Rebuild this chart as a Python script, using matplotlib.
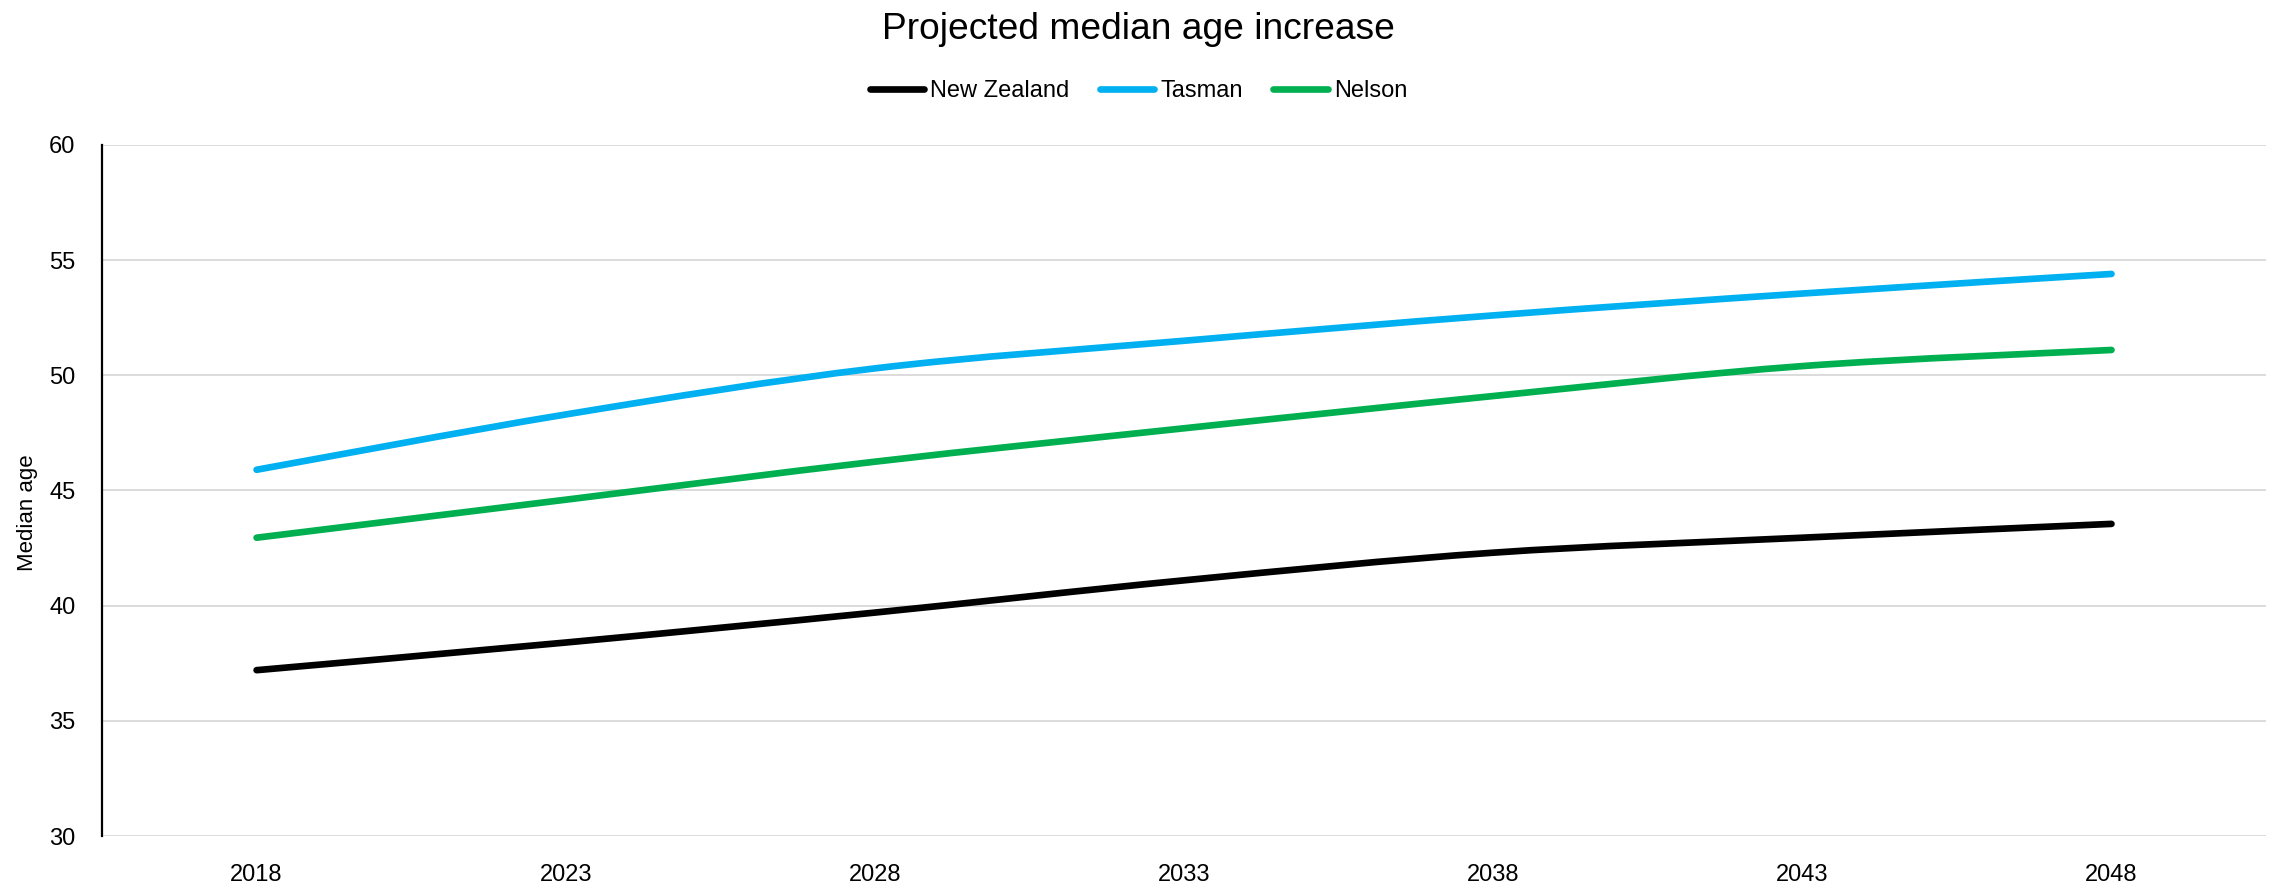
import matplotlib
matplotlib.use('Agg')
import matplotlib.pyplot as plt
import numpy as np
from matplotlib.path import Path
from matplotlib.patches import PathPatch
from matplotlib.lines import Line2D

plt.rcParams['font.family'] = ['Liberation Sans Narrow', 'Liberation Sans', 'DejaVu Sans']

years = [2018, 2023, 2028, 2033, 2038, 2043, 2048]
new_zealand = [37.2, 38.4, 39.7, 41.1, 42.3, 42.95, 43.55]
tasman = [45.9, 48.3, 50.3, 51.5, 52.6, 53.55, 54.4]
nelson = [42.95, 44.6, 46.25, 47.7, 49.1, 50.4, 51.1]

series = [('New Zealand', new_zealand, '#000000'),
          ('Tasman', tasman, '#00B0F0'),
          ('Nelson', nelson, '#00B050')]


def smooth_path(xs, ys):
    # excel style smoothed line: cubic bezier through every point
    pts = np.column_stack([xs, ys]).astype(float)
    n = len(pts)
    verts = [pts[0]]
    codes = [Path.MOVETO]
    for i in range(n - 1):
        p0 = pts[max(i - 1, 0)]
        p1 = pts[i]
        p2 = pts[i + 1]
        p3 = pts[min(i + 2, n - 1)]
        verts += [p1 + (p2 - p0) / 6, p2 - (p3 - p1) / 6, p2]
        codes += [Path.CURVE4] * 3
    return Path(verts, codes)


fig = plt.figure(figsize=(22.77, 8.86), dpi=100)
ax = fig.add_axes([0.0448, 0.0564, 0.9504, 0.78])

handles = []
for name, vals, col in series:
    patch = PathPatch(smooth_path(years, vals), fill=False, edgecolor=col,
                      lw=4.8, capstyle='round', joinstyle='round', zorder=3)
    ax.add_patch(patch)
    handles.append(Line2D([], [], color=col, lw=4.8, solid_capstyle='round', label=name))

ax.set_xlim(2015.5, 2050.5)
ax.set_ylim(30, 60)
ax.set_xticks(years)
ax.set_yticks(np.arange(30, 61, 5))
ax.tick_params(axis='both', length=0, labelsize=17)
ax.tick_params(axis='x', pad=20)
ax.tick_params(axis='y', pad=19)
ax.yaxis.grid(True, color='#d9d9d9', lw=1.3)
ax.set_axisbelow(True)
for s in ['top', 'right', 'bottom']:
    ax.spines[s].set_visible(False)
ax.spines['left'].set_color('black')
ax.spines['left'].set_linewidth(1.6)

ax.set_ylabel('Median age', fontsize=16, va='center')
ax.yaxis.set_label_coords(-0.0345, 0.468)

fig.suptitle('Projected median age increase', fontsize=26.7, y=0.967, va='center')
fig.legend(handles=handles, loc='center', bbox_to_anchor=(0.5, 0.897), ncol=3,
           frameon=False, fontsize=17, handlelength=2.3, handletextpad=0.25,
           columnspacing=1.3)

fig.savefig('out.png', dpi=100)
